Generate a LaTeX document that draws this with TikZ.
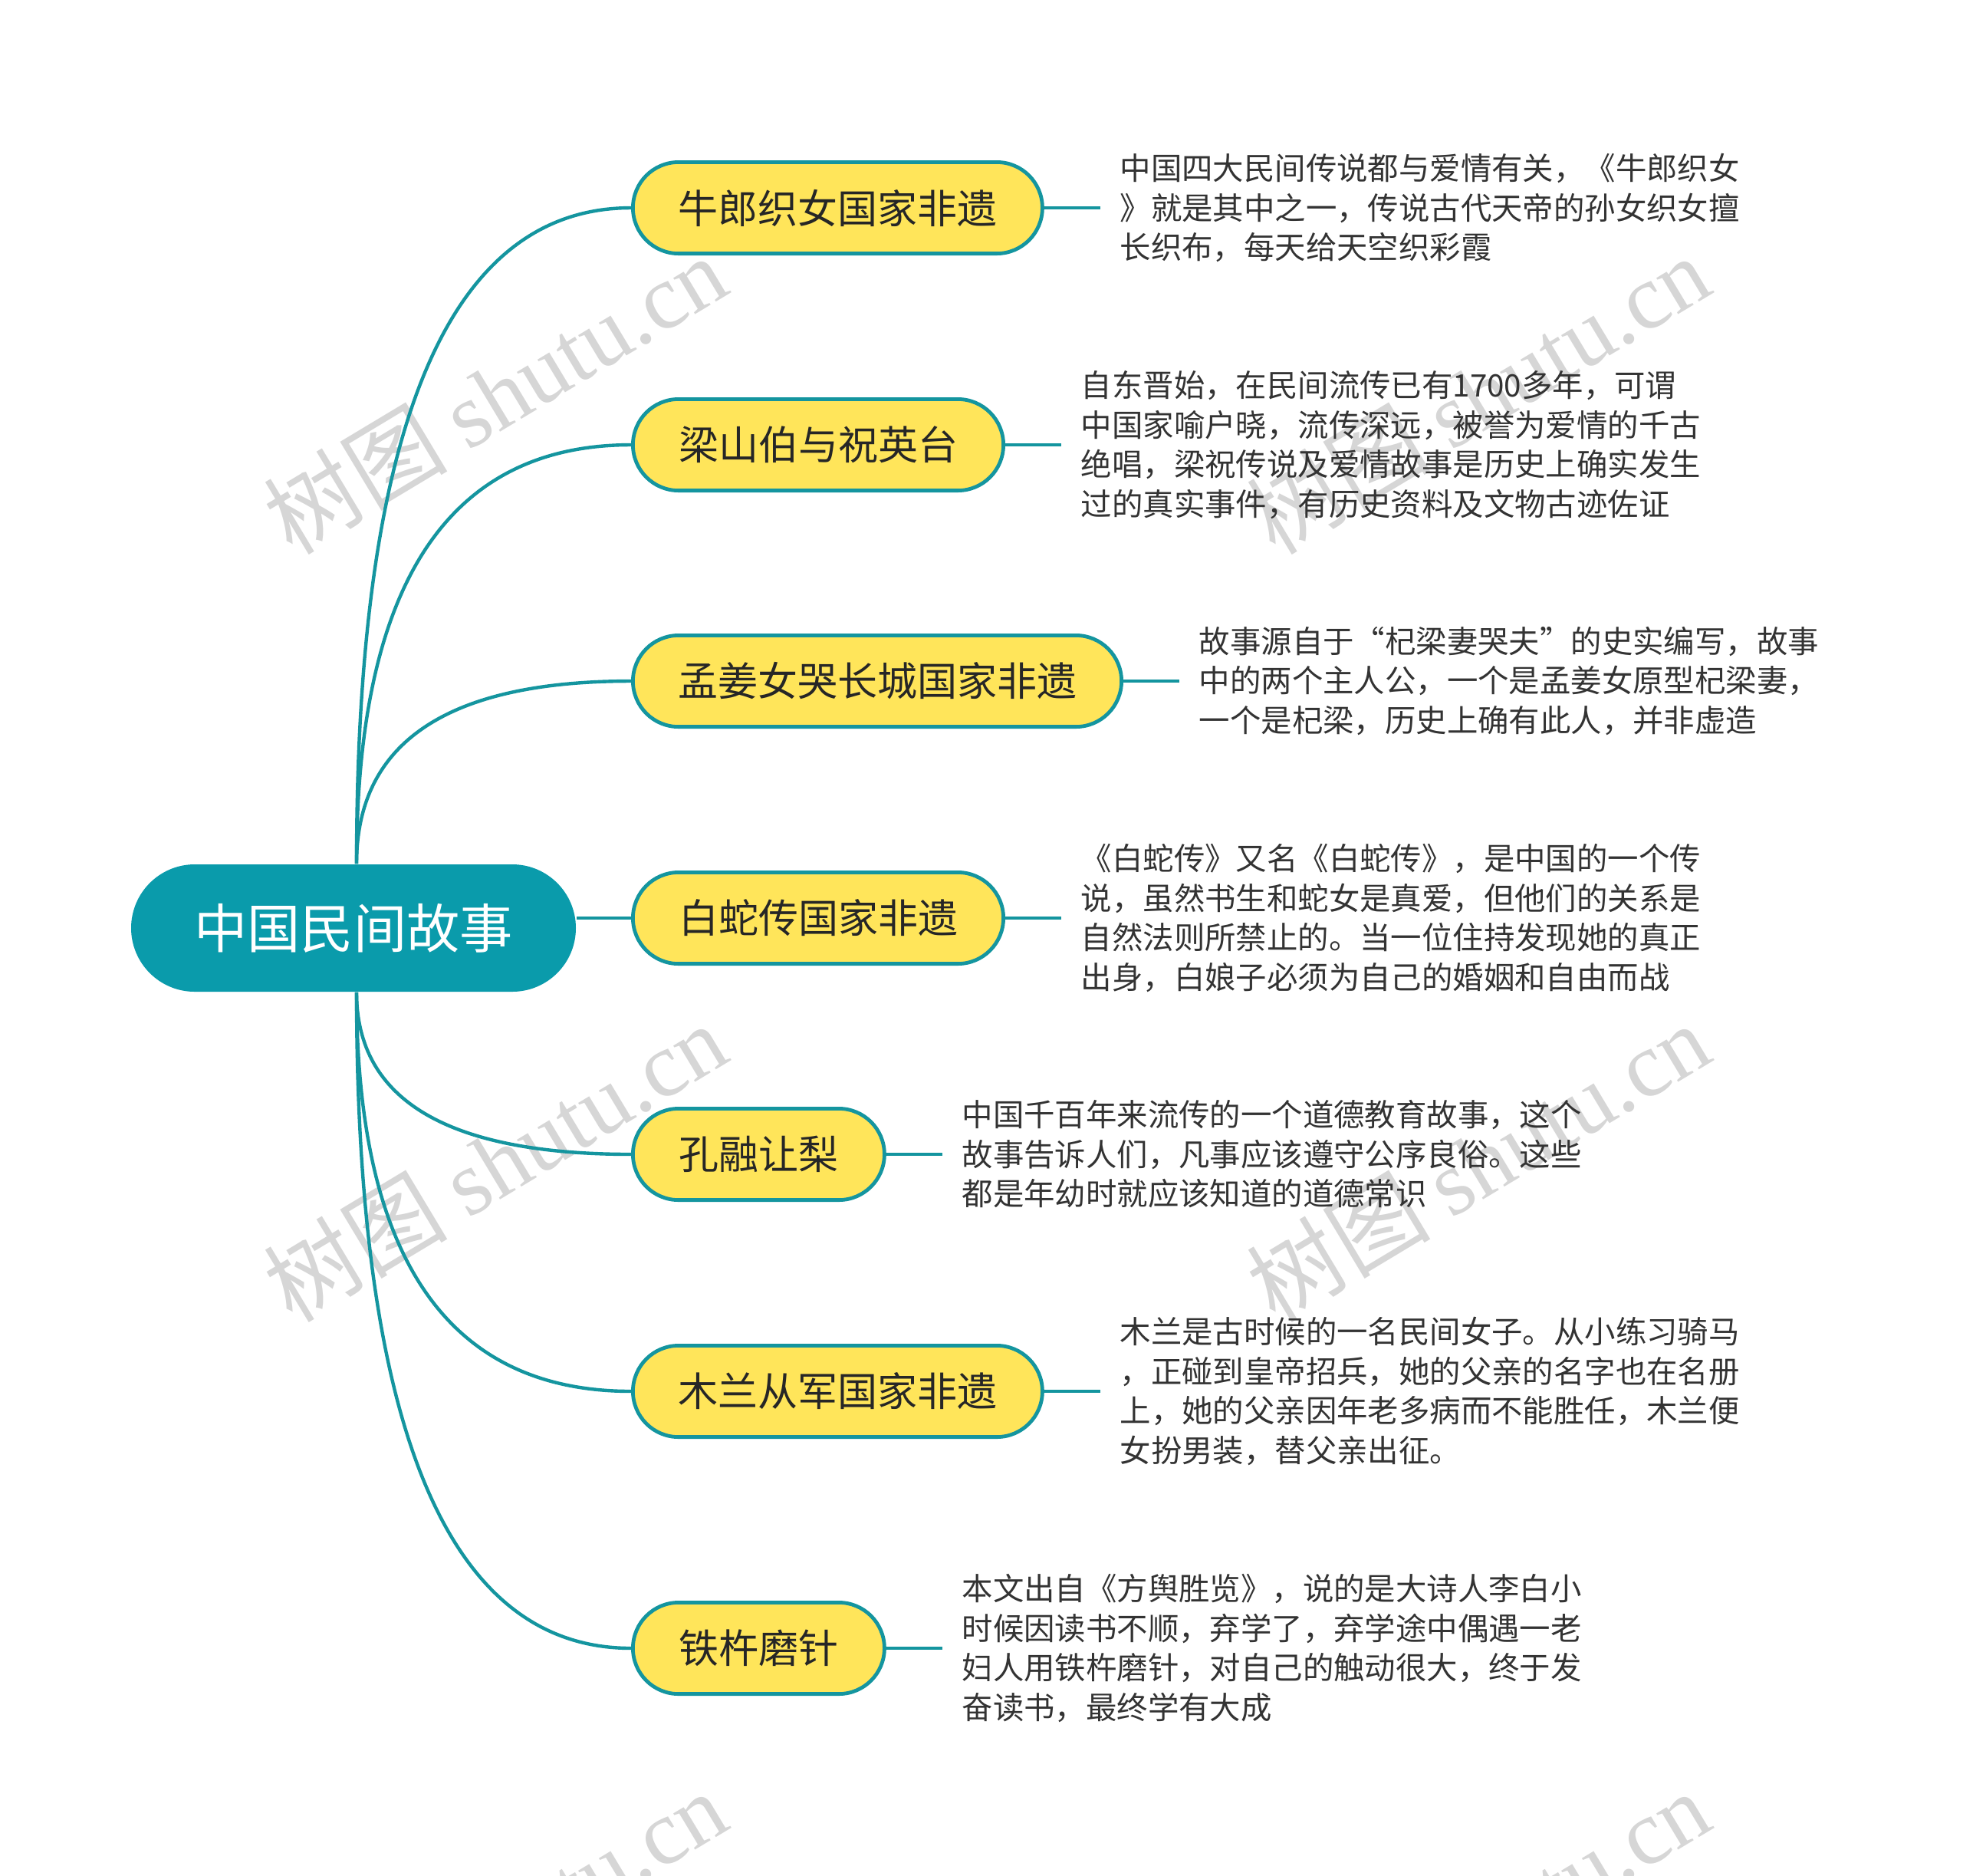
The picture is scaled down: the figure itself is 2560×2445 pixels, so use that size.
\documentclass[tikz,border=0pt]{standalone}
\usepackage{fontspec}
\setmainfont{Noto Sans CJK SC}
\newfontfamily\wmlatin{Liberation Serif}
\usetikzlibrary{calc}
\definecolor{tealfill}{HTML}{0A9BAB}
\definecolor{tealline}{HTML}{14959F}
\definecolor{yel}{HTML}{FFE55A}
\definecolor{desctxt}{HTML}{333333}
\definecolor{branchtxt}{HTML}{262626}
\definecolor{wmgray}{HTML}{D6D6D6}
\begin{document}
\begin{tikzpicture}[x=0.25pt,y=-0.25pt,
  rootbox/.style={fill=tealfill,text=white,rounded corners=20.75pt,minimum width=145pt,minimum height=41.5pt,inner sep=0pt,font=\fontsize{17.3}{20}\selectfont},
  branch/.style={fill=yel,draw=tealline,line width=1.2pt,rounded corners=14.9pt,minimum height=29.8pt,inner sep=0pt,text=branchtxt,font=\fontsize{13}{15}\selectfont,anchor=west},
  desc/.style={anchor=west,align=left,text=desctxt,font=\fontsize{10.1}{12.85}\selectfont,inner xsep=6.25pt,inner ysep=0pt},
  link/.style={draw=tealline,line width=1.1pt},
  wmark/.style={text=wmgray,rotate=31,font=\fontsize{30}{32}\selectfont,inner sep=0pt}
]
\useasboundingbox[fill=white] (0,0) rectangle (2560,2445);
% watermarks
\node[wmark] (w1) at (645,514) {树图 {\wmlatin shutu.cn}};
\node[wmark] (w2) at (1927,514) {树图 {\wmlatin shutu.cn}};
\node[wmark] (w3) at (645,1515) {树图 {\wmlatin shutu.cn}};
\node[wmark] (w4) at (1927,1515) {树图 {\wmlatin shutu.cn}};
\node[wmark] (w5) at (645,2516) {树图 {\wmlatin shutu.cn}};
\node[wmark] (w6) at (1927,2516) {树图 {\wmlatin shutu.cn}};
% nodes
\node[rootbox] (root) at (461,1210) {中国民间故事};
\coordinate (rtop) at ([xshift=1pt]root.north);
\coordinate (rbot) at ([xshift=1pt]root.south);
\node[branch,minimum width=133.5pt] (b1) at (823,271) {牛郎织女国家非遗};
\node[branch,minimum width=120.8pt] (b2) at (823,580) {梁山伯与祝英台};
\node[branch,minimum width=159.3pt] (b3) at (823,888) {孟姜女哭长城国家非遗};
\node[branch,minimum width=120.8pt] (b4) at (823,1197) {白蛇传国家非遗};
\node[branch,minimum width=82pt] (b5) at (823,1505) {孔融让梨};
\node[branch,minimum width=133.5pt] (b6) at (823,1814) {木兰从军国家非遗};
\node[branch,minimum width=82pt] (b7) at (823,2149) {铁杵磨针};
% descriptions
\node[desc] (d1) at ([xshift=18.25pt]b1.east) {中国四大民间传说都与爱情有关，《牛郎织女\\》就是其中之一，传说古代天帝的孙女织女擅\\长织布，每天给天空织彩霞};
\node[desc] (d2) at ([xshift=18.25pt]b2.east) {自东晋始，在民间流传已有1700多年，可谓\\中国家喻户晓，流传深远，被誉为爱情的千古\\绝唱，梁祝传说及爱情故事是历史上确实发生\\过的真实事件，有历史资料及文物古迹佐证};
\node[desc] (d3) at ([xshift=18.25pt]b3.east) {故事源自于“杞梁妻哭夫”的史实编写，故事\\中的两个主人公，一个是孟姜女原型杞梁妻，\\一个是杞梁，历史上确有此人，并非虚造};
\node[desc] (d4) at ([xshift=18.25pt]b4.east) {《白蛇传》又名《白蛇传》，是中国的一个传\\说，虽然书生和蛇女是真爱，但他们的关系是\\自然法则所禁止的。当一位住持发现她的真正\\出身，白娘子必须为自己的婚姻和自由而战};
\node[desc] (d5) at ([xshift=18.25pt]b5.east) {中国千百年来流传的一个道德教育故事，这个\\故事告诉人们，凡事应该遵守公序良俗。这些\\都是年幼时就应该知道的道德常识};
\node[desc] (d6) at ([xshift=18.25pt]b6.east) {木兰是古时候的一名民间女子。从小练习骑马\\，正碰到皇帝招兵，她的父亲的名字也在名册\\上，她的父亲因年老多病而不能胜任，木兰便\\女扮男装，替父亲出征。};
\node[desc] (d7) at ([xshift=18.25pt]b7.east) {本文出自《方舆胜览》，说的是大诗人李白小\\时候因读书不顺，弃学了，弃学途中偶遇一老\\妇人用铁杵磨针，对自己的触动很大，终于发\\奋读书，最终学有大成};
% connectors root -> branches (quadratic-like arcs)
\foreach \b in {b1,b2,b3}{
  \draw[link] (rtop) .. controls ($(rtop)!0.6667!(rtop |- \b.west)$) and ($(\b.west)!0.6667!(rtop |- \b.west)$) .. (\b.west);
}
\foreach \b in {b5,b6,b7}{
  \draw[link] (rbot) .. controls ($(rbot)!0.6667!(rbot |- \b.west)$) and ($(\b.west)!0.6667!(rbot |- \b.west)$) .. (\b.west);
}
\draw[link] (root.east |- b4.west) -- (b4.west);
% connectors branch -> description
\foreach \i in {1,...,7}{
  \draw[link] (b\i.east) -- (d\i.west);
}
\end{tikzpicture}
\end{document}
